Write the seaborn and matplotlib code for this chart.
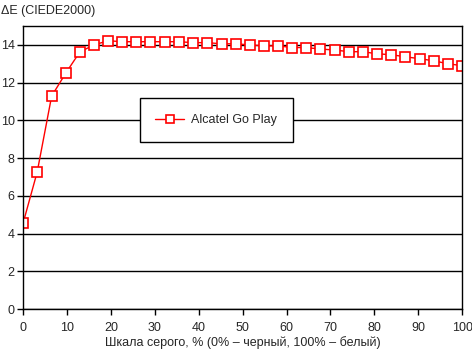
import numpy as np
import pandas as pd
import seaborn as sns
import matplotlib
matplotlib.use('Agg')
import matplotlib.pyplot as plt

# grey scale steps (32 points, 0..100 %)
gray = [0.0, 3.2, 6.5, 9.7, 12.9, 16.1, 19.4, 22.6, 25.8, 29.0, 32.3,
        35.5, 38.7, 41.9, 45.2, 48.4, 51.6, 54.8, 58.1, 61.3, 64.5,
        67.7, 71.0, 74.2, 77.4, 80.6, 83.9, 87.1, 90.3, 93.5, 96.8, 100.0]
delta_e = [4.56, 7.26, 11.29, 12.50, 13.62, 14.00, 14.22, 14.17, 14.17, 14.17, 14.17,
           14.17, 14.12, 14.12, 14.06, 14.06, 14.00, 13.95, 13.95, 13.86, 13.86,
           13.78, 13.73, 13.64, 13.64, 13.53, 13.48, 13.37, 13.27, 13.16, 13.00, 12.90]
series = 'Alcatel Go Play'

data = pd.DataFrame({'gray': gray, 'dE': delta_e})

sns.set_style('white')
plt.rcParams['font.family'] = ['Liberation Sans', 'DejaVu Sans']

fig, ax = plt.subplots(figsize=(4.72, 3.52), dpi=100)
fig.subplots_adjust(left=0.049, right=0.979, top=0.926, bottom=0.122)

sns.lineplot(x='gray', y='dE', data=data, ax=ax, color='red', lw=1,
             marker='s', markersize=7, markerfacecolor='white',
             markeredgecolor='red', markeredgewidth=1.2, label=series)

ax.set_xlim(0, 100)
ax.set_ylim(0, 15)
ax.set_xticks(np.arange(0, 101, 10))
ax.set_yticks(np.arange(0, 15, 2))
ax.yaxis.grid(True, color='black', lw=1)
ax.set_axisbelow(True)
for s in ax.spines.values():
  s.set_color('black')
  s.set_linewidth(1)
ax.tick_params(axis='both', direction='out', length=4, width=1, color='black',
               labelsize=9, pad=2, bottom=True, left=True)
ax.tick_params(axis='x', pad=5)

ax.set_xlabel('Шкала серого, % (0% – черный, 100% – белый)', fontsize=9, labelpad=2)
ax.set_ylabel('')
fig.text(0.002, 0.985, 'ΔE (CIEDE2000)', fontsize=9, ha='left', va='top')

leg = ax.legend(loc='center', bbox_to_anchor=(0.44, 0.668), fontsize=9,
                frameon=True, fancybox=False, framealpha=1, borderpad=1.25,
                handlelength=2.3, handletextpad=0.6, borderaxespad=0)
leg.get_frame().set_edgecolor('black')
leg.get_frame().set_linewidth(1)
for h in leg.legend_handles:
  h.set_markersize(6)

fig.savefig('out.png', dpi=100)
